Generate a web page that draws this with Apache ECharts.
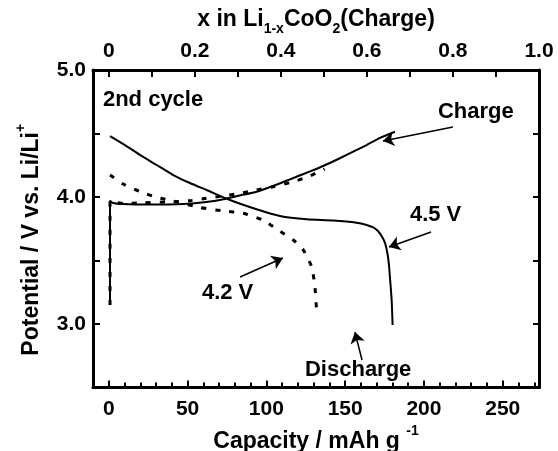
<!DOCTYPE html>
<html>
<head>
<meta charset="utf-8">
<script src="https://cdn.jsdelivr.net/npm/echarts@6.0.0/dist/echarts.min.js"></script>
<style>
  html, body { margin: 0; padding: 0; background: #fff; }
  #chart { width: 558px; height: 451px; }
</style>
</head>
<body>
<div id="chart"></div>
<script>
// ---- 2nd-cycle charge/discharge curves of LiCoO2 (capacity in mAh/g, potential in V) ----

// 4.5 V cut-off, charge
const charge45Cap = [0.8, 0.8, 2.7, 9.2, 26, 47.3, 62, 72.7, 83.2, 93.8, 104.2, 115, 125.6, 136.1, 146.6, 163.6, 172.1, 181.6];
const charge45V   = [3.15, 3.971, 3.953, 3.945, 3.941, 3.945, 3.96, 3.982, 4.012, 4.042, 4.087, 4.139, 4.191, 4.244, 4.305, 4.409, 4.465, 4.514];

// 4.5 V cut-off, discharge
const discharge45Cap = [0.8, 10.3, 19.8, 30.4, 40.9, 51.5, 62.1, 76.9, 93.8, 108.6, 125.6, 142.4, 157.3, 163.6, 167.8, 170.8, 173.4, 175.3, 176.8, 177.8, 178.4, 179.5, 180.1];
const discharge45V   = [4.48, 4.409, 4.331, 4.252, 4.173, 4.11, 4.055, 3.976, 3.903, 3.85, 3.824, 3.815, 3.798, 3.78, 3.76, 3.732, 3.687, 3.638, 3.559, 3.465, 3.37, 3.189, 2.992];

// 4.2 V cut-off, charge
const charge42Cap = [0.8, 0.8, 9.2, 21.7, 36.7, 51.5, 62, 72.7, 83.2, 93.8, 104.4, 115, 125.6, 137];
const charge42V   = [3.15, 3.969, 3.949, 3.955, 3.961, 3.971, 3.99, 4.008, 4.029, 4.055, 4.081, 4.113, 4.155, 4.22];

// 4.2 V cut-off, discharge
const discharge42Cap = [0.8, 9.2, 19.8, 30.4, 43.1, 57.9, 72.7, 85.3, 98, 106.5, 117.1, 123.4, 128.7, 130.8, 131.9];
const discharge42V   = [4.173, 4.102, 4.042, 3.998, 3.963, 3.917, 3.89, 3.872, 3.817, 3.748, 3.661, 3.583, 3.451, 3.294, 3.097];

// Axis ticks and labels
const capLabels = [0, 50, 100, 150, 200, 250];
const capMinorTicks = [0, 10, 20, 30, 40, 50, 60, 70, 80, 90, 100, 110, 120, 130, 140, 150, 160, 170, 180, 190, 200, 210, 220, 230, 240, 250, 260, 270];
const xLiLabels = [0, 0.2, 0.4, 0.6, 0.8, 1.0];
const xLiTicks = [0, 0.1, 0.2, 0.3, 0.4, 0.5, 0.6, 0.7, 0.8, 0.9, 1.0];
const potentialLabels = [3, 4, 5];

// Text notes: [capacity, potential, text]
const notes = [
  [-3.7, 4.765, '2nd cycle'],
  [208.9, 4.67, 'Charge'],
  [191.1, 3.855, '4.5 V'],
  [59.1, 3.245, '4.2 V'],
  [124.5, 2.635, 'Discharge']
];

// Arrows: [[fromCap, fromV], [toCap, toV]]
const arrows = [
  [[218.4, 4.551], [174.0, 4.441]],
  [[204.5, 3.724], [177.8, 3.606]],
  [[83.3, 3.370], [110.5, 3.520]],
  [[160.7, 2.717], [156.2, 2.937]]
];

const capMin = -10, capMax = 273;
const FONT = '"Liberation Sans", Arial, Helvetica, sans-serif';
const zip = (xs, ys) => xs.map((x, i) => [x, ys[i]]);

const labelStyle = { fontFamily: FONT, fontWeight: 'bold', fontSize: 21, color: '#000' };
const mainRich = { fontFamily: FONT, fontWeight: 'bold', fontSize: 23, color: '#000', lineHeight: 23, verticalAlign: 'top' };
const smallRich = { fontFamily: FONT, fontWeight: 'bold', fontSize: 14, color: '#000', lineHeight: 14, verticalAlign: 'top' };
const frameLine = { show: true, onZero: false, lineStyle: { color: '#000', width: 3 } };

const chart = echarts.init(document.getElementById('chart'), null, { renderer: 'canvas' });

chart.setOption({
  animation: false,
  backgroundColor: '#fff',
  grid: { left: 93, right: 19, top: 70, bottom: 63.5, containLabel: false, outerBoundsMode: 'none' },
  xAxis: [
    {
      type: 'value', position: 'bottom', min: capMin, max: capMax,
      axisLine: frameLine,
      axisTick: { show: true, inside: true, length: 7, customValues: capLabels, lineStyle: { color: '#000', width: 2 } },
      axisLabel: { customValues: capLabels, margin: 11, ...labelStyle },
      splitLine: { show: false },
      name: '{m|Capacity / mAh g }{s|-1}',
      nameLocation: 'middle', nameGap: 35,
      nameTextStyle: {
        fontFamily: FONT, fontWeight: 'bold', fontSize: 23, color: '#000',
        rich: { m: { ...mainRich, padding: [6, 0, 0, 0] }, s: smallRich }
      }
    },
    {
      type: 'value', position: 'bottom', min: capMin, max: capMax,
      axisLine: { show: false },
      axisTick: { show: true, inside: true, length: 5, customValues: capMinorTicks, lineStyle: { color: '#000', width: 2 } },
      axisLabel: { show: false },
      splitLine: { show: false }
    },
    {
      type: 'value', position: 'top', min: capMin / capMax, max: 1.0,
      axisLine: frameLine,
      axisTick: { show: true, inside: true, length: 7, customValues: xLiTicks, lineStyle: { color: '#000', width: 2 } },
      axisLabel: {
        customValues: xLiLabels, margin: 8, ...labelStyle,
        formatter: v => (v === 0 ? '0' : v.toFixed(1))
      },
      splitLine: { show: false },
      name: '{m|x in Li}{s|1-x}{m|CoO}{s|2}{m|(Charge)}',
      nameLocation: 'middle', nameGap: 28,
      nameTextStyle: {
        fontFamily: FONT, fontWeight: 'bold', fontSize: 23, color: '#000',
        rich: { m: mainRich, s: { ...smallRich, padding: [14, 0, 0, 0] } }
      }
    }
  ],
  yAxis: [
    {
      type: 'value', position: 'left', min: 2.5, max: 5.0, interval: 0.5,
      axisLine: frameLine,
      axisTick: { show: true, inside: true, length: 7, lineStyle: { color: '#000', width: 2 } },
      axisLabel: { customValues: potentialLabels, margin: 7, ...labelStyle, formatter: v => v.toFixed(1) },
      splitLine: { show: false },
      name: '{m|Potential / V vs. Li/Li}{s|+}',
      nameLocation: 'middle', nameRotate: 90, nameGap: 56,
      nameTextStyle: {
        fontFamily: FONT, fontWeight: 'bold', fontSize: 23, color: '#000',
        padding: [0, 22, 0, 0],
        rich: { m: { ...mainRich, padding: [6, 0, 0, 0] }, s: smallRich }
      }
    },
    {
      type: 'value', position: 'right', min: 2.5, max: 5.0, interval: 0.5,
      axisLine: frameLine,
      axisTick: { show: true, inside: true, length: 6, lineStyle: { color: '#000', width: 2 } },
      axisLabel: { show: false },
      splitLine: { show: false }
    }
  ],
  series: [
    {
      name: 'charge 4.5 V', type: 'line', xAxisIndex: 0, yAxisIndex: 0,
      data: zip(charge45Cap, charge45V), showSymbol: false, smooth: 0.2,
      lineStyle: { color: '#000', width: 2 }
    },
    {
      name: 'discharge 4.5 V', type: 'line', xAxisIndex: 0, yAxisIndex: 0,
      data: zip(discharge45Cap, discharge45V), showSymbol: false, smooth: 0.2,
      lineStyle: { color: '#000', width: 2 }
    },
    {
      name: 'charge 4.2 V', type: 'line', xAxisIndex: 0, yAxisIndex: 0,
      data: zip(charge42Cap, charge42V), showSymbol: false, smooth: 0.2,
      lineStyle: { color: '#000', width: 3, type: [5, 9] }
    },
    {
      name: 'discharge 4.2 V', type: 'line', xAxisIndex: 0, yAxisIndex: 0,
      data: zip(discharge42Cap, discharge42V), showSymbol: false, smooth: 0.2,
      lineStyle: { color: '#000', width: 3, type: [5, 9] }
    },
    {
      name: 'notes', type: 'scatter', xAxisIndex: 0, yAxisIndex: 0,
      symbolSize: 0, silent: true,
      itemStyle: { opacity: 1, color: '#000' },
      data: notes.map(n => ({ value: [n[0], n[1]], name: n[2] })),
      label: {
        show: true, position: 'right', distance: 0,
        formatter: p => p.name,
        fontFamily: FONT, fontWeight: 'bold', fontSize: 22, color: '#000', opacity: 1
      },
      markLine: {
        silent: true, symbol: ['none', 'arrow'], symbolSize: 11,
        label: { show: false },
        lineStyle: { color: '#000', width: 1.5, type: 'solid', opacity: 1 },
        data: arrows.map(a => [{ coord: a[0] }, { coord: a[1] }])
      }
    }
  ]
});
</script>
</body>
</html>
